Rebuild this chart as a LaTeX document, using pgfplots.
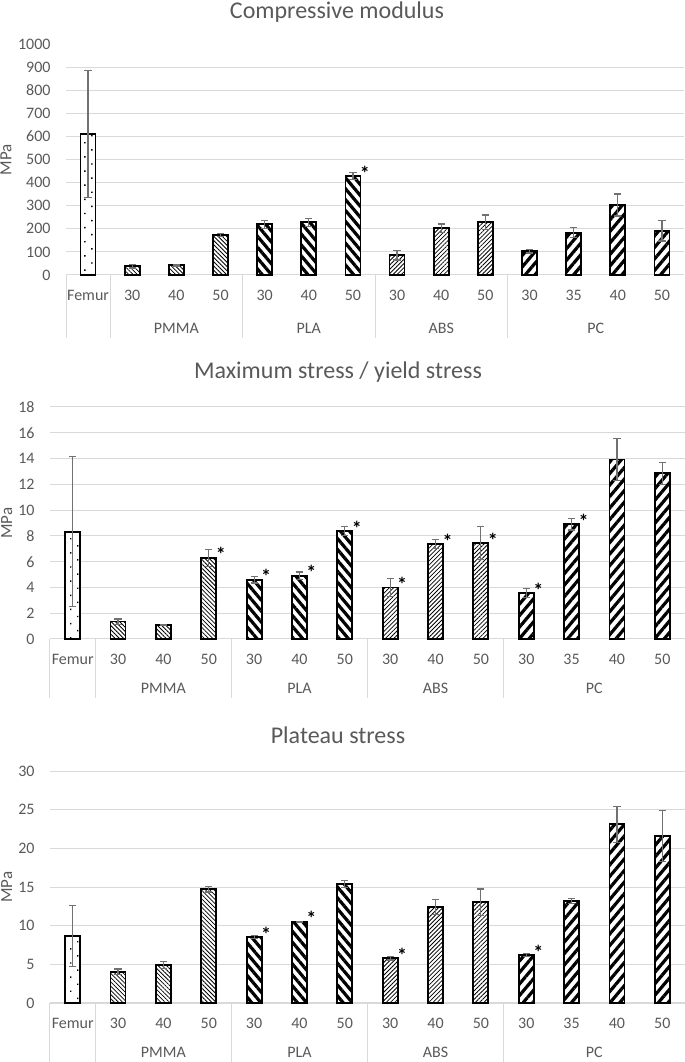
\documentclass[border=0pt]{standalone}
\usepackage{pgfplots}
\pgfplotsset{compat=1.18}
\usetikzlibrary{patterns.meta}
\usepackage{fontspec}
\setmainfont{Carlito}

\definecolor{txt}{HTML}{595959}
\definecolor{gridc}{HTML}{D9D9D9}
\definecolor{errc}{HTML}{717171}

\newcommand\tfont{\fontsize{8}{9.5}\selectfont}
\tikzset{grp/.style={font=\tfont, text=txt}}
\newcommand\groups[1]{%
  \node[grp, yshift=-#1] at (axis cs:2,0) {PMMA};
  \node[grp, yshift=-#1] at (axis cs:5,0) {PLA};
  \node[grp, yshift=-#1] at (axis cs:8,0) {ABS};
  \node[grp, yshift=-#1] at (axis cs:11.5,0) {PC};}

\pgfplotsset{
  panel/.style={
    scale only axis, clip=false,
    xmin=-0.5, xmax=13.5, ymin=0,
    axis line style={draw=none},
    tick pos=left, major tick length=0pt,
    xtick={0,...,13},
    xticklabels={Femur,30,40,50,30,40,50,30,40,50,30,35,40,50},
    xticklabel style={anchor=center, yshift=-10pt},
    yticklabel style={xshift=-4.2pt},
    ticklabel style={font=\tfont, text=txt},
    ymajorgrids, major grid style={draw=gridc, line width=0.5pt},
    extra x ticks={-0.5,0.5,3.5,6.5,9.5},
    extra x tick labels={},
    extra x tick style={tick align=outside, major tick length=#1,
      major tick style={draw=gridc, line width=0.5pt}},
    /pgf/number format/assume math mode=true,
    /pgf/number format/1000 sep={},
    ylabel={MPa},
    ylabel style={font=\fontsize{8.5}{10}\selectfont, text=txt, anchor=center},
  },
  bars/.style={ybar, bar width=7.5pt, bar shift=0pt, draw=black, line width=0.9pt, fill=white,
    error bars/y dir=both, error bars/y explicit,
    error bars/error bar style={draw=errc, line width=0.6pt},
    error bars/error mark options={rotate=90, mark size=1.8pt, draw=errc, line width=0.6pt}},
  femur/.style={bars, postaction={pattern={Dots[distance=5pt, angle=45, radius=0.5pt]}, pattern color=black}},
  pmma/.style={bars, postaction={pattern={Lines[angle=-45, distance=1.5pt, line width=0.4pt]}, pattern color=black}},
  pla/.style={bars, postaction={pattern={Lines[angle=-50, distance=3.5pt, line width=1.6pt]}, pattern color=black}},
  abs/.style={bars, postaction={pattern={Lines[angle=45, distance=1.5pt, line width=0.4pt]}, pattern color=black}},
  pc/.style={bars, postaction={pattern={Lines[angle=50, distance=3.7pt, line width=1.6pt]}, pattern color=black}},
  star/.style={draw=none, nodes near coords={\bfseries *},
    every node near coord/.append style={anchor=center, xshift=6pt, yshift=1.5pt,
      text=black, font=\fontsize{10}{11}\selectfont, inner sep=0pt}},
}

\begin{document}
\begin{tikzpicture}
\useasboundingbox (0,0) rectangle (342.5pt,531pt);

% Compressive modulus
\begin{axis}[panel=31.5pt, at={(33pt,393.5pt)}, anchor=south west,
  width=309pt, height=115.5pt,
  ymax=1000, ytick={0,100,...,900}, extra y ticks={1000}, extra y tick style={grid=none},
  ylabel style={at={(axis description cs:-0.097,0.5)}}]
\addplot[femur] table[x=x, y=y, y error=e] {
x y e
0 610 275
};
\addplot[pmma] table[x=x, y=y, y error=e] {
x y e
1 38 8
2 42 3
3 172 7
};
\addplot[pla] table[x=x, y=y, y error=e] {
x y e
4 220 17
5 228 17
6 428 15
};
\addplot[abs] table[x=x, y=y, y error=e] {
x y e
7 85 20
8 203 18
9 228 32
};
\addplot[pc] table[x=x, y=y, y error=e] {
x y e
10 103 8
11 183 22
12 303 48
13 192 45
};
\addplot[star] coordinates {(6,428)};
\groups{26.5pt}
\end{axis}

% Maximum stress / yield stress
\begin{axis}[panel=29.5pt, at={(25pt,211.5pt)}, anchor=south west,
  width=317.5pt, height=116pt,
  ymax=18, ytick={0,2,...,18},
  ylabel style={at={(axis description cs:-0.068,0.5)}}]
\addplot[femur] table[x=x, y=y, y error=e] {
x y e
0 8.33 5.83
};
\addplot[pmma] table[x=x, y=y, y error=e] {
x y e
1 1.35 0.2
2 1.1 0.05
3 6.3 0.65
};
\addplot[pla] table[x=x, y=y, y error=e] {
x y e
4 4.6 0.25
5 4.9 0.3
6 8.35 0.35
};
\addplot[abs] table[x=x, y=y, y error=e] {
x y e
7 4.0 0.7
8 7.35 0.35
9 7.45 1.3
};
\addplot[pc] table[x=x, y=y, y error=e] {
x y e
10 3.55 0.35
11 8.9 0.45
12 13.93 1.63
13 12.85 0.85
};
\addplot[star] coordinates {(3,6.3) (4,4.6) (5,4.9) (6,8.35) (7,4.0) (8,7.35) (9,7.45) (10,3.55) (11,8.9)};
\groups{24.5pt}
\end{axis}

% Plateau stress
\begin{axis}[panel=29.5pt, at={(25pt,29.5pt)}, anchor=south west,
  width=317.5pt, height=116pt,
  ymax=30, ytick={0,5,...,30},
  ylabel style={at={(axis description cs:-0.068,0.5)}}]
\addplot[femur] table[x=x, y=y, y error=e] {
x y e
0 8.66 3.92
};
\addplot[pmma] table[x=x, y=y, y error=e] {
x y e
1 4.05 0.35
2 4.95 0.45
3 14.7 0.35
};
\addplot[pla] table[x=x, y=y, y error=e] {
x y e
4 8.5 0.2
5 10.5 0.05
6 15.4 0.45
};
\addplot[abs] table[x=x, y=y, y error=e] {
x y e
7 5.8 0.25
8 12.4 1.0
9 13.05 1.7
};
\addplot[pc] table[x=x, y=y, y error=e] {
x y e
10 6.2 0.2
11 13.2 0.35
12 23.1 2.35
13 21.6 3.3
};
\addplot[star] coordinates {(4,8.5) (5,10.5) (7,5.8) (10,6.2)};
\groups{24.5pt}
\end{axis}

\node[font=\fontsize{12}{14}\selectfont, text=txt] at (168.5pt,525pt) {Compressive modulus};
\node[font=\fontsize{12}{14}\selectfont, text=txt] at (169pt,345pt) {Maximum stress / yield stress};
\node[font=\fontsize{12}{14}\selectfont, text=txt] at (169pt,163.5pt) {Plateau stress};
\end{tikzpicture}
\end{document}
